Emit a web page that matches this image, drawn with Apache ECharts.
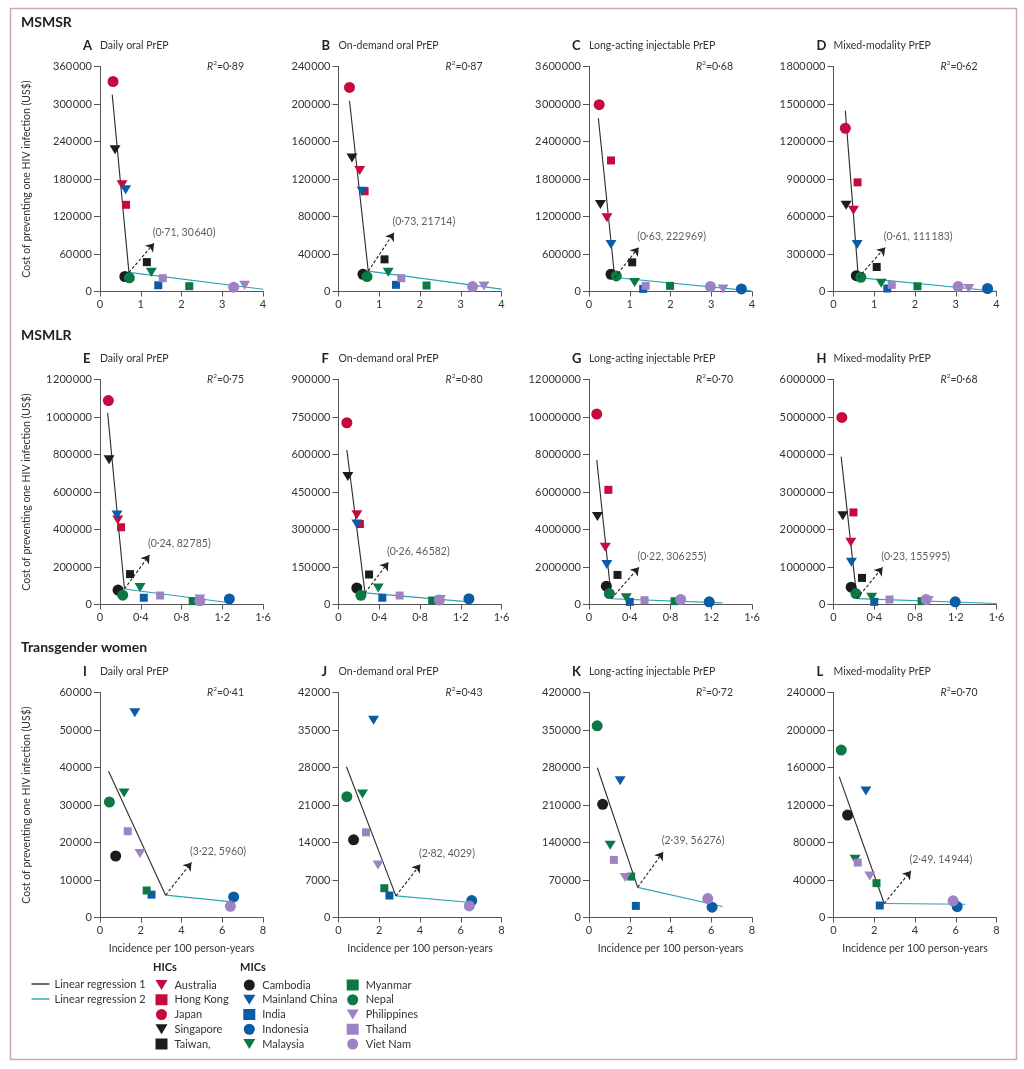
<!DOCTYPE html>
<html>
<head>
<meta charset="utf-8">
<script src="https://cdn.jsdelivr.net/npm/echarts@6/dist/echarts.min.js"></script>
<style>
  html, body { margin: 0; background: #fff; }
  #chart { width: 1024px; height: 1069px; }
</style>
</head>
<body>
<div id="chart"></div>
<script>
// countries, in legend order
const countries = ['Australia', 'Hong Kong', 'Japan', 'Singapore', 'Taiwan,',
  'Cambodia', 'Mainland China', 'India', 'Indonesia', 'Malaysia',
  'Myanmar', 'Nepal', 'Philippines', 'Thailand', 'Viet Nam'];
const countryShape = ['tri', 'sq', 'ci', 'tri', 'sq', 'ci', 'tri', 'sq', 'ci', 'tri', 'sq', 'ci', 'tri', 'sq', 'ci'];
const countryColour = ['#c50b3e', '#c50b3e', '#c50b3e', '#1c1c1c', '#1c1c1c',
  '#1c1c1c', '#0b5ca6', '#0b5ca6', '#0b5ca6', '#0c7845',
  '#0c7845', '#0c7845', '#9d82c4', '#9d82c4', '#9d82c4'];

// [incidence, cost] per country (null = not shown)
const pointsA = [[0.54, 170700], [0.64, 138700], [0.32, 336000], [0.37, 226700], [1.15, 47000],
  [0.61, 24000], [0.63, 162700], [1.43, 10000], null, [1.26, 31000],
  [2.19, 8500], [0.72, 21900], [3.55, 10100], [1.54, 21300], [3.28, 6900]];
const pointsB = [[0.52, 129200], [0.64, 106900], [0.27, 217700], [0.33, 142300], [1.13, 34300],
  [0.60, 18400], [0.58, 106900], [1.41, 7100], null, [1.22, 20500],
  [2.16, 6400], [0.70, 15900], [3.57, 6000], [1.54, 14200], [3.29, 5300]];
const pointsC = [[0.44, 1179000], [0.54, 2097000], [0.25, 2989000], [0.28, 1391000], [1.06, 467000],
  [0.54, 276000], [0.54, 754000], [1.33, 42000], [3.74, 42000], [1.12, 143000],
  [1.99, 90000], [0.67, 250000], [3.29, 42000], [1.39, 90000], [2.98, 80000]];
const pointsD = [[0.49, 650000], [0.59, 873000], [0.29, 1306000], [0.31, 690000], [1.06, 196000],
  [0.56, 127000], [0.58, 377000], [1.32, 24000], [3.78, 24000], [1.17, 66000],
  [2.06, 42000], [0.67, 114000], [3.32, 24000], [1.43, 53000], [3.06, 40000]];
const pointsE = [[0.174, 451000], [0.207, 412000], [0.082, 1087700], [0.089, 772000], [0.295, 162000],
  [0.177, 77000], [0.167, 478000], [0.43, 36000], [1.27, 30000], [0.393, 91000],
  [0.91, 18000], [0.223, 50000], [0.98, 30000], [0.59, 48000], [0.98, 20000]];
const pointsF = [[0.18, 359000], [0.21, 322000], [0.082, 727000], [0.092, 512000], [0.30, 120000],
  [0.18, 66000], [0.18, 322000], [0.43, 27000], [1.28, 23000], [0.39, 66000],
  [0.92, 16000], [0.22, 37000], [1.0, 20000], [0.60, 36000], [0.99, 18000]];
const pointsG = [[0.16, 3049000], [0.19, 6115000], [0.076, 10156000], [0.083, 4697000], [0.28, 1578000],
  [0.17, 975000], [0.175, 2127000], [0.40, 142000], [1.18, 142000], [0.366, 355000],
  [0.84, 177000], [0.20, 585000], [0.90, 177000], [0.545, 230000], [0.90, 266000]];
const pointsH = [[0.17, 1657000], [0.196, 2455000], [0.082, 4990000], [0.091, 2366000], [0.28, 709000],
  [0.173, 461000], [0.176, 1126000], [0.40, 71000], [1.195, 71000], [0.375, 195000],
  [0.865, 89000], [0.22, 292000], [0.93, 106000], [0.55, 133000], [0.91, 133000]];
const pointsI = [null, null, null, null, null,
  [0.77, 16400], [1.71, 54600], [2.53, 6100], [6.56, 5500], [1.18, 33200],
  [2.29, 7200], [0.46, 30800], [1.96, 17100], [1.36, 23000], [6.40, 3000]];
const pointsJ = [null, null, null, null, null,
  [0.74, 14500], [1.72, 36800], [2.50, 4100], [6.54, 3170], [1.18, 23050],
  [2.25, 5470], [0.41, 22550], [1.94, 9800], [1.35, 15900], [6.42, 2170]];
const pointsK = [null, null, null, null, null,
  [0.67, 211200], [1.53, 255400], [2.30, 21700], [6.04, 19300], [1.04, 134800],
  [2.07, 76400], [0.40, 357900], [1.78, 74600], [1.22, 107500], [5.83, 35400]];
const pointsL = [null, null, null, null, null,
  [0.69, 109300], [1.59, 134900], [2.27, 12800], [6.07, 11700], [1.06, 62100],
  [2.11, 36600], [0.38, 178600], [1.78, 44400], [1.19, 58600], [5.87, 17750]];

// piecewise regression: start of line 1, breakpoint, end of line 2, arrow tip
const reg1Start = [[0.30, 315000], [0.27, 203500], [0.23, 2772000], [0.29, 1447000],
  [0.075, 1022000], [0.082, 618000], [0.076, 7710000], [0.075, 3944000],
  [0.42, 39000], [0.39, 28150], [0.41, 279600], [0.28, 150200]];
const breakPoints = [[0.71, 30640], [0.73, 21714], [0.63, 222969], [0.61, 111183],
  [0.24, 82785], [0.26, 46582], [0.22, 306255], [0.23, 155995],
  [3.22, 5960], [2.82, 4029], [2.39, 56276], [2.49, 14944]];
const reg2End = [[4, 3700], [4, 2500], [3.98, 10000], [4, 2000],
  [1.27, 9000], [1.28, 10600], [1.31, 89000], [1.6, 27000],
  [6.37, 4240], [6.49, 2800], [6.55, 20500], [6.46, 14200]];
const arrowTips = [[1.33, 77300], [1.36, 62700], [1.22, 706000], [1.27, 353000],
  [0.485, 264000], [0.49, 169000], [0.49, 1985000], [0.483, 993000],
  [4.49, 14700], [4.02, 9940], [3.64, 122400], [3.80, 49700]];

const rSquared = [0.89, 0.87, 0.68, 0.62, 0.75, 0.80, 0.70, 0.68, 0.41, 0.43, 0.72, 0.70];
const yMax = [360000, 240000, 3600000, 1800000, 1200000, 900000, 12000000, 6000000, 60000, 42000, 420000, 240000];
const xMax = [4, 1.6, 8];
const xStep = [1, 0.4, 2];
const letters = ['A', 'B', 'C', 'D', 'E', 'F', 'G', 'H', 'I', 'J', 'K', 'L'];
const modalities = ['Daily oral PrEP', 'On-demand oral PrEP', 'Long-acting injectable PrEP', 'Mixed-modality PrEP'];
const groups = ['MSMSR', 'MSMLR', 'Transgender women'];

const panelPoints = [pointsA, pointsB, pointsC, pointsD, pointsE, pointsF, pointsG, pointsH, pointsI, pointsJ, pointsK, pointsL];

const FONT = 'Lato';
const TEXT = '#333';
const AXIS = '#555';
const DOWN_TRI = 'path://M0,0L12,0L6,10Z';
const colLeft = [100, 338.5, 589, 833.5];
const rowTop = [66.5, 379.5, 692.5];
const groupTop = [15, 328, 640];
const W = 163, H = 225;

const fmtNum = v => {
  const s = String(Math.round(v));
  return s.length < 5 ? s : s.replace(/\B(?=(\d{3})+(?!\d))/g, '\u200A');
};
const fmtDec = v => String(+v.toFixed(2)).replace('.', '·');

const chart = echarts.init(document.getElementById('chart'));

const grid = [], xAxis = [], yAxis = [], series = [], title = [];

groups.forEach((g, r) => {
  title.push({ text: g, left: 21, top: groupTop[r], padding: 0,
    textStyle: { fontFamily: FONT, fontSize: 14, fontWeight: 'bold', color: '#222' } });
});

for (let p = 0; p < 12; p++) {
  const row = Math.floor(p / 4), col = p % 4;
  grid.push({ left: colLeft[col], top: rowTop[row], width: W, height: H });
  xAxis.push({
    gridIndex: p, type: 'value', min: 0, max: xMax[row], interval: xStep[row],
    splitLine: { show: false },
    axisLine: { lineStyle: { color: AXIS, width: 1 } },
    axisTick: { length: 5, lineStyle: { color: AXIS } },
    axisLabel: { formatter: fmtDec, color: TEXT, fontFamily: FONT, fontSize: 11, margin: 7 },
    name: row === 2 ? 'Incidence per 100 person-years' : '',
    nameLocation: 'middle', nameGap: 26,
    nameTextStyle: { color: TEXT, fontFamily: FONT, fontSize: 10.5 }
  });
  yAxis.push({
    gridIndex: p, type: 'value', min: 0, max: yMax[p], interval: yMax[p] / 6,
    splitLine: { show: false },
    axisLine: { show: true, lineStyle: { color: AXIS, width: 1 } },
    axisTick: { show: true, length: 6, lineStyle: { color: AXIS } },
    axisLabel: { formatter: fmtNum, color: TEXT, fontFamily: FONT, fontSize: 11, margin: 8 },
    name: col === 0 ? 'Cost of preventing one HIV infection (US$)' : '',
    nameLocation: 'middle', nameGap: 68, nameRotate: 90,
    nameTextStyle: { color: TEXT, fontFamily: FONT, fontSize: 10.5 }
  });

  title.push({
    text: '{l|' + letters[p] + '}{s|' + modalities[col] + '}',
    left: colLeft[col] - 17, top: rowTop[row] - 27, padding: 0,
    textStyle: { fontWeight: 'normal', rich: {
      l: { fontFamily: FONT, fontSize: 13, fontWeight: 'bold', color: '#222', width: 17 },
      s: { fontFamily: FONT, fontSize: 10.5, fontWeight: 'normal', color: TEXT }
    } }
  });
  title.push({
    text: '{i|R}{p|2}{n|=' + rSquared[p].toFixed(2).replace('.', '·') + '}',
    right: 1024 - (colLeft[col] + W - 19), top: rowTop[row] - 7, padding: 0,
    textStyle: { fontWeight: 'normal', rich: {
      i: { fontFamily: FONT, fontSize: 10.5, fontStyle: 'italic', fontWeight: 'normal', color: TEXT, lineHeight: 14 },
      p: { fontFamily: FONT, fontSize: 6.5, fontWeight: 'normal', color: TEXT, verticalAlign: 'top', lineHeight: 14 },
      n: { fontFamily: FONT, fontSize: 10.5, fontWeight: 'normal', color: TEXT, lineHeight: 14 }
    } }
  });

  // regression lines
  series.push({
    name: 'Linear regression 1', type: 'line', xAxisIndex: p, yAxisIndex: p,
    data: [reg1Start[p], breakPoints[p]], symbol: 'none', silent: true, z: 1,
    lineStyle: { color: '#2b2b2b', width: 1.1 }, itemStyle: { color: '#2b2b2b' }
  });
  series.push({
    name: 'Linear regression 2', type: 'line', xAxisIndex: p, yAxisIndex: p,
    data: [breakPoints[p], reg2End[p]], symbol: 'none', silent: true, z: 1,
    lineStyle: { color: '#2aa3b3', width: 1.1 }, itemStyle: { color: '#2aa3b3' }
  });

  // country markers
  panelPoints[p].forEach((pt, c) => {
    if (!pt) return;
    const shape = countryShape[c];
    series.push({
      name: countries[c], type: 'scatter', xAxisIndex: p, yAxisIndex: p,
      data: [pt], z: 3,
      symbol: shape === 'tri' ? DOWN_TRI : shape === 'sq' ? 'rect' : 'circle',
      symbolSize: shape === 'tri' ? [11, 9] : shape === 'sq' ? 8 : 11,
      itemStyle: { color: countryColour[c], opacity: 1 }
    });
  });

  // breakpoint arrow + label
  series.push({
    type: 'lines', coordinateSystem: 'cartesian2d', xAxisIndex: p, yAxisIndex: p,
    data: [{ coords: [breakPoints[p], arrowTips[p]] }], z: 4, silent: true,
    symbol: ['none', 'arrow'], symbolSize: 8,
    lineStyle: { color: '#222', width: 1.1, type: [3, 2], opacity: 1 }
  });
  series.push({
    type: 'scatter', xAxisIndex: p, yAxisIndex: p, data: [arrowTips[p]], z: 4, silent: true,
    symbolSize: 1, itemStyle: { color: 'rgba(0,0,0,0)' },
    label: {
      show: true, position: [-1, -16], color: TEXT, fontFamily: FONT, fontSize: 10.5,
      formatter: () => '(' + fmtDec(breakPoints[p][0]) + ', ' + fmtNum(breakPoints[p][1]) + ')'
    }
  });
}

title.push({ text: 'HICs', left: 153, top: 962, padding: 0,
  textStyle: { fontFamily: FONT, fontSize: 11, fontWeight: 'bold', color: '#222' } });
title.push({ text: 'MICs', left: 240, top: 962, padding: 0,
  textStyle: { fontFamily: FONT, fontSize: 11, fontWeight: 'bold', color: '#222' } });

const legendBase = {
  orient: 'vertical', top: 979.5, selectedMode: false, padding: 0,
  itemWidth: 12, itemHeight: 11, itemGap: 3.75,
  textStyle: { fontFamily: FONT, fontSize: 11, color: TEXT, padding: [0, 0, 0, 2] }
};
const lineLegend = (name, top) => Object.assign({}, legendBase, {
  left: 31.5, top: top, itemWidth: 18, itemHeight: 1.4,
  data: [{ name: name, icon: 'rect' }],
  textStyle: { fontFamily: FONT, fontSize: 11, color: TEXT }
});
const legend = [
  lineLegend('Linear regression 1', 978.5),
  lineLegend('Linear regression 2', 993.5),
  Object.assign({}, legendBase, { left: 155.5, data: countries.slice(0, 5) }),
  Object.assign({}, legendBase, { left: 243.3, data: countries.slice(5, 10) }),
  Object.assign({}, legendBase, { left: 346.7, data: countries.slice(10, 15) })
];

chart.setOption({
  animation: false,
  backgroundColor: '#fff',
  title, grid, xAxis, yAxis, series, legend,
  graphic: [{
    type: 'rect', shape: { x: 10.5, y: 8.5, width: 1006, height: 1051 },
    style: { fill: 'none', stroke: '#cfa7b3', lineWidth: 1.5 }, silent: true
  }]
});
</script>
</body>
</html>
